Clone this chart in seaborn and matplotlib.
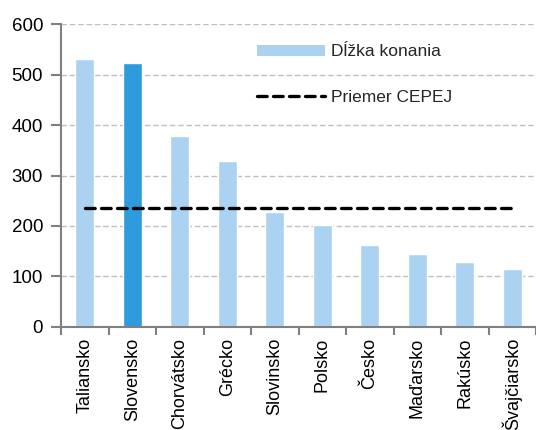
import matplotlib
matplotlib.use("Agg")
import matplotlib.pyplot as plt
import seaborn as sns
import pandas as pd
import numpy as np
from matplotlib.patches import Patch
from matplotlib.lines import Line2D

countries = ["Taliansko", "Slovensko", "Chorvátsko", "Grécko", "Slovinsko",
             "Polsko", "Česko", "Maďarsko", "Rakúsko", "Švajčiarsko"]
dlzka = [531, 523, 378, 329, 227, 202, 162, 144, 129, 114]
priemer_cepej = [236] * len(countries)

light = "#ABD3F1"
dark = "#2E9BDC"
colors = [dark if c == "Slovensko" else light for c in countries]

sns.set_theme(style="white")
plt.rcParams['font.family'] = ['Liberation Sans', 'DejaVu Sans']

df = pd.DataFrame({"krajina": countries, "dlzka": dlzka, "priemer": priemer_cepej})

fig = plt.figure(figsize=(5.36, 4.30), dpi=100)
ax = fig.add_axes([0.114, 0.240, 0.886, 0.7035])

sns.barplot(data=df, x="krajina", y="dlzka", hue="krajina", palette=colors,
            width=0.4, ax=ax, legend=False, saturation=1)
line_dash = (2.9, 1.9)
ax.plot(np.arange(len(countries)), df["priemer"], color="black", lw=2.4,
        dashes=line_dash, dash_capstyle="round", zorder=5)

ax.set_ylim(0, 600)
ax.set_xlim(-0.5, len(countries) - 0.5)
ax.set_yticks(range(0, 601, 100))
ax.yaxis.grid(True, color="#BFBFBF", ls=(0, (4, 2)), lw=1)
ax.set_axisbelow(True)
ax.set_xlabel("")
ax.set_ylabel("")

for s in ["top", "right"]:
    ax.spines[s].set_visible(False)
for s in ["left", "bottom"]:
    ax.spines[s].set_color("#808080")
    ax.spines[s].set_linewidth(1.5)

ax.set_xticks(np.arange(len(countries)))
ax.set_xticklabels(countries, rotation=90, fontsize=13, color="black")
ax.set_xticks(np.arange(-0.5, len(countries) + 0.5, 1), minor=True)
ax.tick_params(axis="x", which="major", length=0, pad=8)
ax.tick_params(axis="x", which="minor", length=6, width=1.5, color="#808080", bottom=True, direction="out")
ax.tick_params(axis="y", length=7, width=1.5, color="#808080", left=True, direction="out",
               labelsize=13.5, labelcolor="black", pad=6)

handles = [Patch(facecolor=light, edgecolor="none", label="Dĺžka konania"),
           Line2D([0], [0], color="black", lw=2.4, dashes=line_dash, dash_capstyle="round", label="Priemer CEPEJ")]
leg = ax.legend(handles=handles, loc="upper left", bbox_to_anchor=(0.405, 0.945), frameon=False,
                fontsize=12.5, handlelength=3.9, handleheight=0.6, handletextpad=0.35, labelspacing=1.75,
                borderaxespad=0, borderpad=0.2)

fig.savefig("out.png", dpi=100)
